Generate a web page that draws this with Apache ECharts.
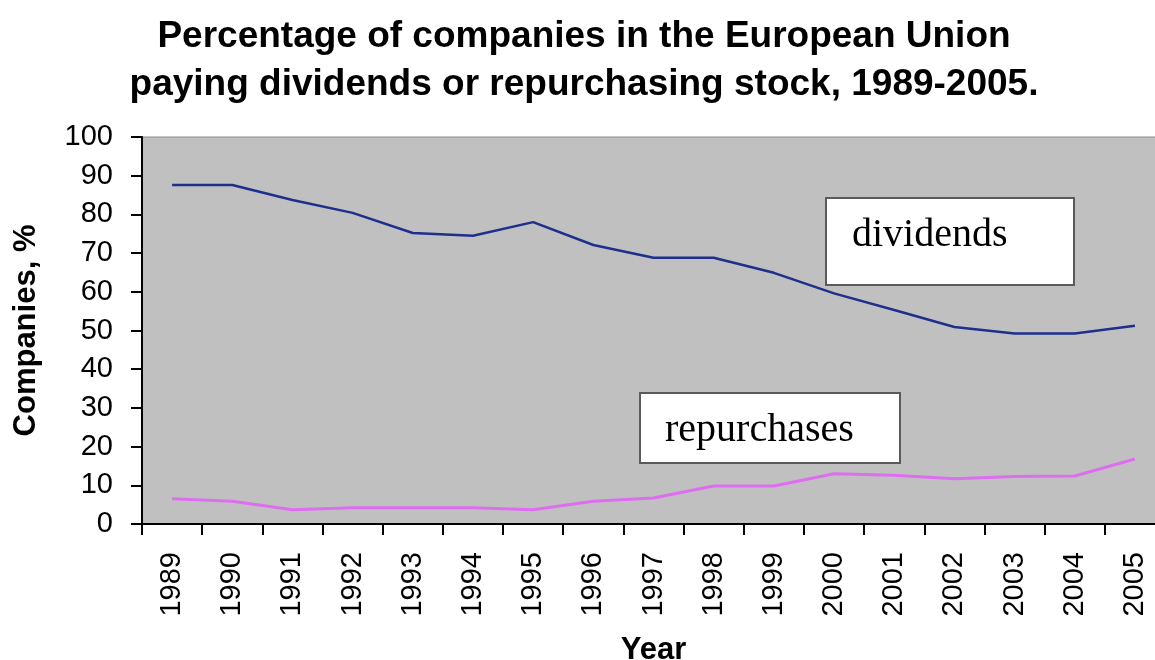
<!DOCTYPE html>
<html>
<head>
<meta charset="utf-8">
<script src="https://cdn.jsdelivr.net/npm/echarts@6/dist/echarts.min.js"></script>
<style>
  html, body { margin: 0; padding: 0; background: #fff; }
  #main { width: 1155px; height: 660px; }
</style>
</head>
<body>
<div id="main"></div>
<script>
// data
const years = ['1989', '1990', '1991', '1992', '1993', '1994', '1995', '1996', '1997',
  '1998', '1999', '2000', '2001', '2002', '2003', '2004', '2005'];
const dividends = [87.6, 87.6, 83.7, 80.4, 75.2, 74.5, 78, 72.1, 68.8, 68.8, 64.9, 59.6, 55.3, 50.9, 49.2, 49.2, 51.2];
const repurchases = [6.5, 5.9, 3.7, 4.2, 4.2, 4.2, 3.7, 5.9, 6.7, 9.8, 9.8, 13.0, 12.6, 11.7, 12.3, 12.4, 16.8];
const yTicks = { min: 0, max: 100, interval: 10 };

const chart = echarts.init(document.getElementById('main'));

const sans = '"Liberation Sans", Arial, sans-serif';
const serif = '"Liberation Serif", "Times New Roman", serif';

let option = {
  animation: false,
  title: {
    text: 'Percentage of companies in the European Union\npaying dividends or repurchasing stock, 1989-2005.',
    left: 579,
    top: 8,
    textAlign: 'center',
    textStyle: {
      fontFamily: sans,
      fontSize: 37,
      fontWeight: 'bold',
      color: '#000',
      lineHeight: 48
    }
  },
  grid: {
    left: 142,
    top: 137,
    width: 1023,
    height: 387,
    outerBoundsMode: 'none',
    containLabel: false,
    show: true,
    backgroundColor: '#c0c0c0',
    borderColor: '#8c8c8c',
    borderWidth: 1
  },
  xAxis: {
    type: 'category',
    data: years,
    boundaryGap: true,
    name: 'Year',
    nameLocation: 'middle',
    nameGap: 111,
    nameTextStyle: { fontFamily: sans, fontSize: 31, fontWeight: 'bold', color: '#000' },
    axisLine: { lineStyle: { color: '#000', width: 2 } },
    axisTick: { show: true, interval: 0, length: 11, lineStyle: { color: '#000', width: 2 } },
    axisLabel: {
      interval: 0,
      rotate: 90,
      margin: 28,
      fontFamily: sans,
      fontSize: 29,
      color: '#000'
    },
    splitLine: { show: false }
  },
  yAxis: {
    type: 'value',
    min: yTicks.min,
    max: yTicks.max,
    interval: yTicks.interval,
    name: 'Companies, %',
    nameLocation: 'middle',
    nameGap: 100,
    nameTextStyle: { fontFamily: sans, fontSize: 31, fontWeight: 'bold', color: '#000' },
    axisLine: { show: true, lineStyle: { color: '#000', width: 2 } },
    axisTick: { show: true, length: 11, lineStyle: { color: '#000', width: 2 } },
    axisLabel: { margin: 29, fontFamily: sans, fontSize: 29, color: '#000' },
    splitLine: { show: false }
  },
  series: [
    {
      name: 'dividends',
      type: 'line',
      data: dividends,
      symbol: 'none',
      lineStyle: { color: '#1f2f8c', width: 2.5 }
    },
    {
      name: 'repurchases',
      type: 'line',
      data: repurchases,
      symbol: 'none',
      lineStyle: { color: '#dd6ef0', width: 3 }
    }
  ],
  // the two text boxes inside the plot
  graphic: [
    {
      type: 'rect',
      shape: { x: 826, y: 198, width: 248, height: 87 },
      style: { fill: '#fff', stroke: '#5a5a5a', lineWidth: 2 },
      z: 10
    },
    {
      type: 'text',
      x: 852,
      y: 235,
      style: { text: 'dividends', font: '40px ' + serif, fill: '#000', verticalAlign: 'middle' },
      z: 11
    },
    {
      type: 'rect',
      shape: { x: 640, y: 393, width: 260, height: 70 },
      style: { fill: '#fff', stroke: '#5a5a5a', lineWidth: 2 },
      z: 10
    },
    {
      type: 'text',
      x: 665,
      y: 430,
      style: { text: 'repurchases', font: '40px ' + serif, fill: '#000', verticalAlign: 'middle' },
      z: 11
    }
  ]
};

chart.setOption(option);
</script>
</body>
</html>
